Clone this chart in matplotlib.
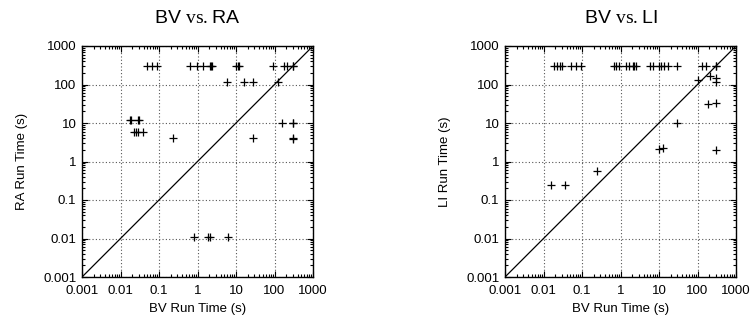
import matplotlib
matplotlib.use("Agg")
import matplotlib.pyplot as plt
from matplotlib.ticker import LogLocator, FixedLocator, NullFormatter

plt.rcParams['font.family'] = ['Liberation Sans', 'DejaVu Sans']
plt.rcParams['mathtext.fontset'] = 'custom'
plt.rcParams['mathtext.rm'] = 'Liberation Serif'

# BV vs RA
ra_bv = [0.048, 0.065, 0.088, 0.64, 0.95, 1.42, 2.1, 2.3, 2.45, 10.0, 11.0, 12.2, 92, 178, 213, 295, 300,
         5.7, 16, 27, 124,
         0.0172, 0.019, 0.029, 0.031, 161, 300, 295,
         0.0218, 0.025, 0.029, 0.038, 0.237, 28, 300, 295,
         0.81, 1.9, 2.05, 6.3]
ra_rt = [300, 300, 300, 300, 300, 300, 300, 300, 300, 300, 300, 300, 300, 300, 300, 300, 300,
         119, 119, 119, 119,
         11.9, 11.9, 11.9, 11.9, 10, 10, 10.3,
         5.7, 5.7, 5.7, 5.7, 4.0, 4.0, 4.0, 3.9,
         0.0108, 0.0108, 0.0108, 0.0108]

# BV vs LI
li_bv = [0.0188, 0.023, 0.027, 0.030, 0.051, 0.069, 0.093,
         0.66, 0.76, 0.92, 1.38, 1.68, 2.05, 2.3, 2.5,
         5.8, 7.1, 10.2, 11.3, 13.7, 17.4, 29,
         128, 166, 300, 295,
         105, 216, 300, 300, 190, 300, 29, 10.2, 12.4, 300,
         0.0157, 0.036, 0.24]
li_rt = [300, 300, 300, 300, 300, 300, 300,
         300, 300, 300, 300, 300, 300, 300, 300,
         300, 300, 300, 300, 300, 300, 300,
         300, 300, 300, 295,
         128, 163, 148, 113, 31, 32.6, 10.1, 2.06, 2.28, 1.94,
         0.25, 0.25, 0.55]

ticks = [0.001, 0.01, 0.1, 1, 10, 100, 1000]
tick_labels = ['0.001', '0.01', '0.1', '1', '10', '100', '1000']

fig = plt.figure(figsize=(7.54, 3.23), dpi=100)
W, H = 754, 323

def make_ax(left_px, xs, ys, ylabel, title):
    ax = fig.add_axes([left_px / W, (H - 277) / H, 231 / W, 231 / H])
    ax.set_xscale('log')
    ax.set_yscale('log')
    ax.set_xlim(0.001, 1000)
    ax.set_ylim(0.001, 1000)
    ax.plot([0.001, 1000], [0.001, 1000], color='black', lw=0.9)
    ax.plot(xs, ys, linestyle='none', marker='+', color='black', markersize=5.5, markeredgewidth=0.9)
    ax.xaxis.set_major_locator(FixedLocator(ticks))
    ax.yaxis.set_major_locator(FixedLocator(ticks))
    ax.set_xticklabels(tick_labels)
    ax.set_yticklabels(tick_labels)
    ax.xaxis.set_minor_locator(LogLocator(base=10, subs=[2, 3, 4, 5, 6, 7, 8, 9], numticks=20))
    ax.yaxis.set_minor_locator(LogLocator(base=10, subs=[2, 3, 4, 5, 6, 7, 8, 9], numticks=20))
    ax.xaxis.set_minor_formatter(NullFormatter())
    ax.yaxis.set_minor_formatter(NullFormatter())
    ax.tick_params(which='both', direction='in', top=True, right=True, labelsize=9.5, width=0.8)
    ax.tick_params(which='major', length=4)
    ax.tick_params(axis='x', which='major', pad=6)
    ax.tick_params(axis='y', which='major', pad=4)
    ax.tick_params(which='minor', length=2)
    ax.grid(True, which='major', linestyle=(0, (1, 2)), color='#555555', lw=0.8)
    for s in ax.spines.values():
        s.set_linewidth(1.0)
    ax.set_xlabel('BV Run Time (s)', fontsize=9.5, labelpad=4)
    ax.set_ylabel(ylabel, fontsize=9.5, labelpad=11)
    ax.text(0.5, 1.12, title, transform=ax.transAxes, ha='center', va='center', fontsize=14)
    return ax

make_ax(82, ra_bv, ra_rt, 'RA Run Time (s)', r'BV $\mathrm{vs.}$RA')
make_ax(505, li_bv, li_rt, 'LI Run Time (s)', r'BV $\mathrm{vs.}$LI')

fig.savefig('out.png', dpi=100)
